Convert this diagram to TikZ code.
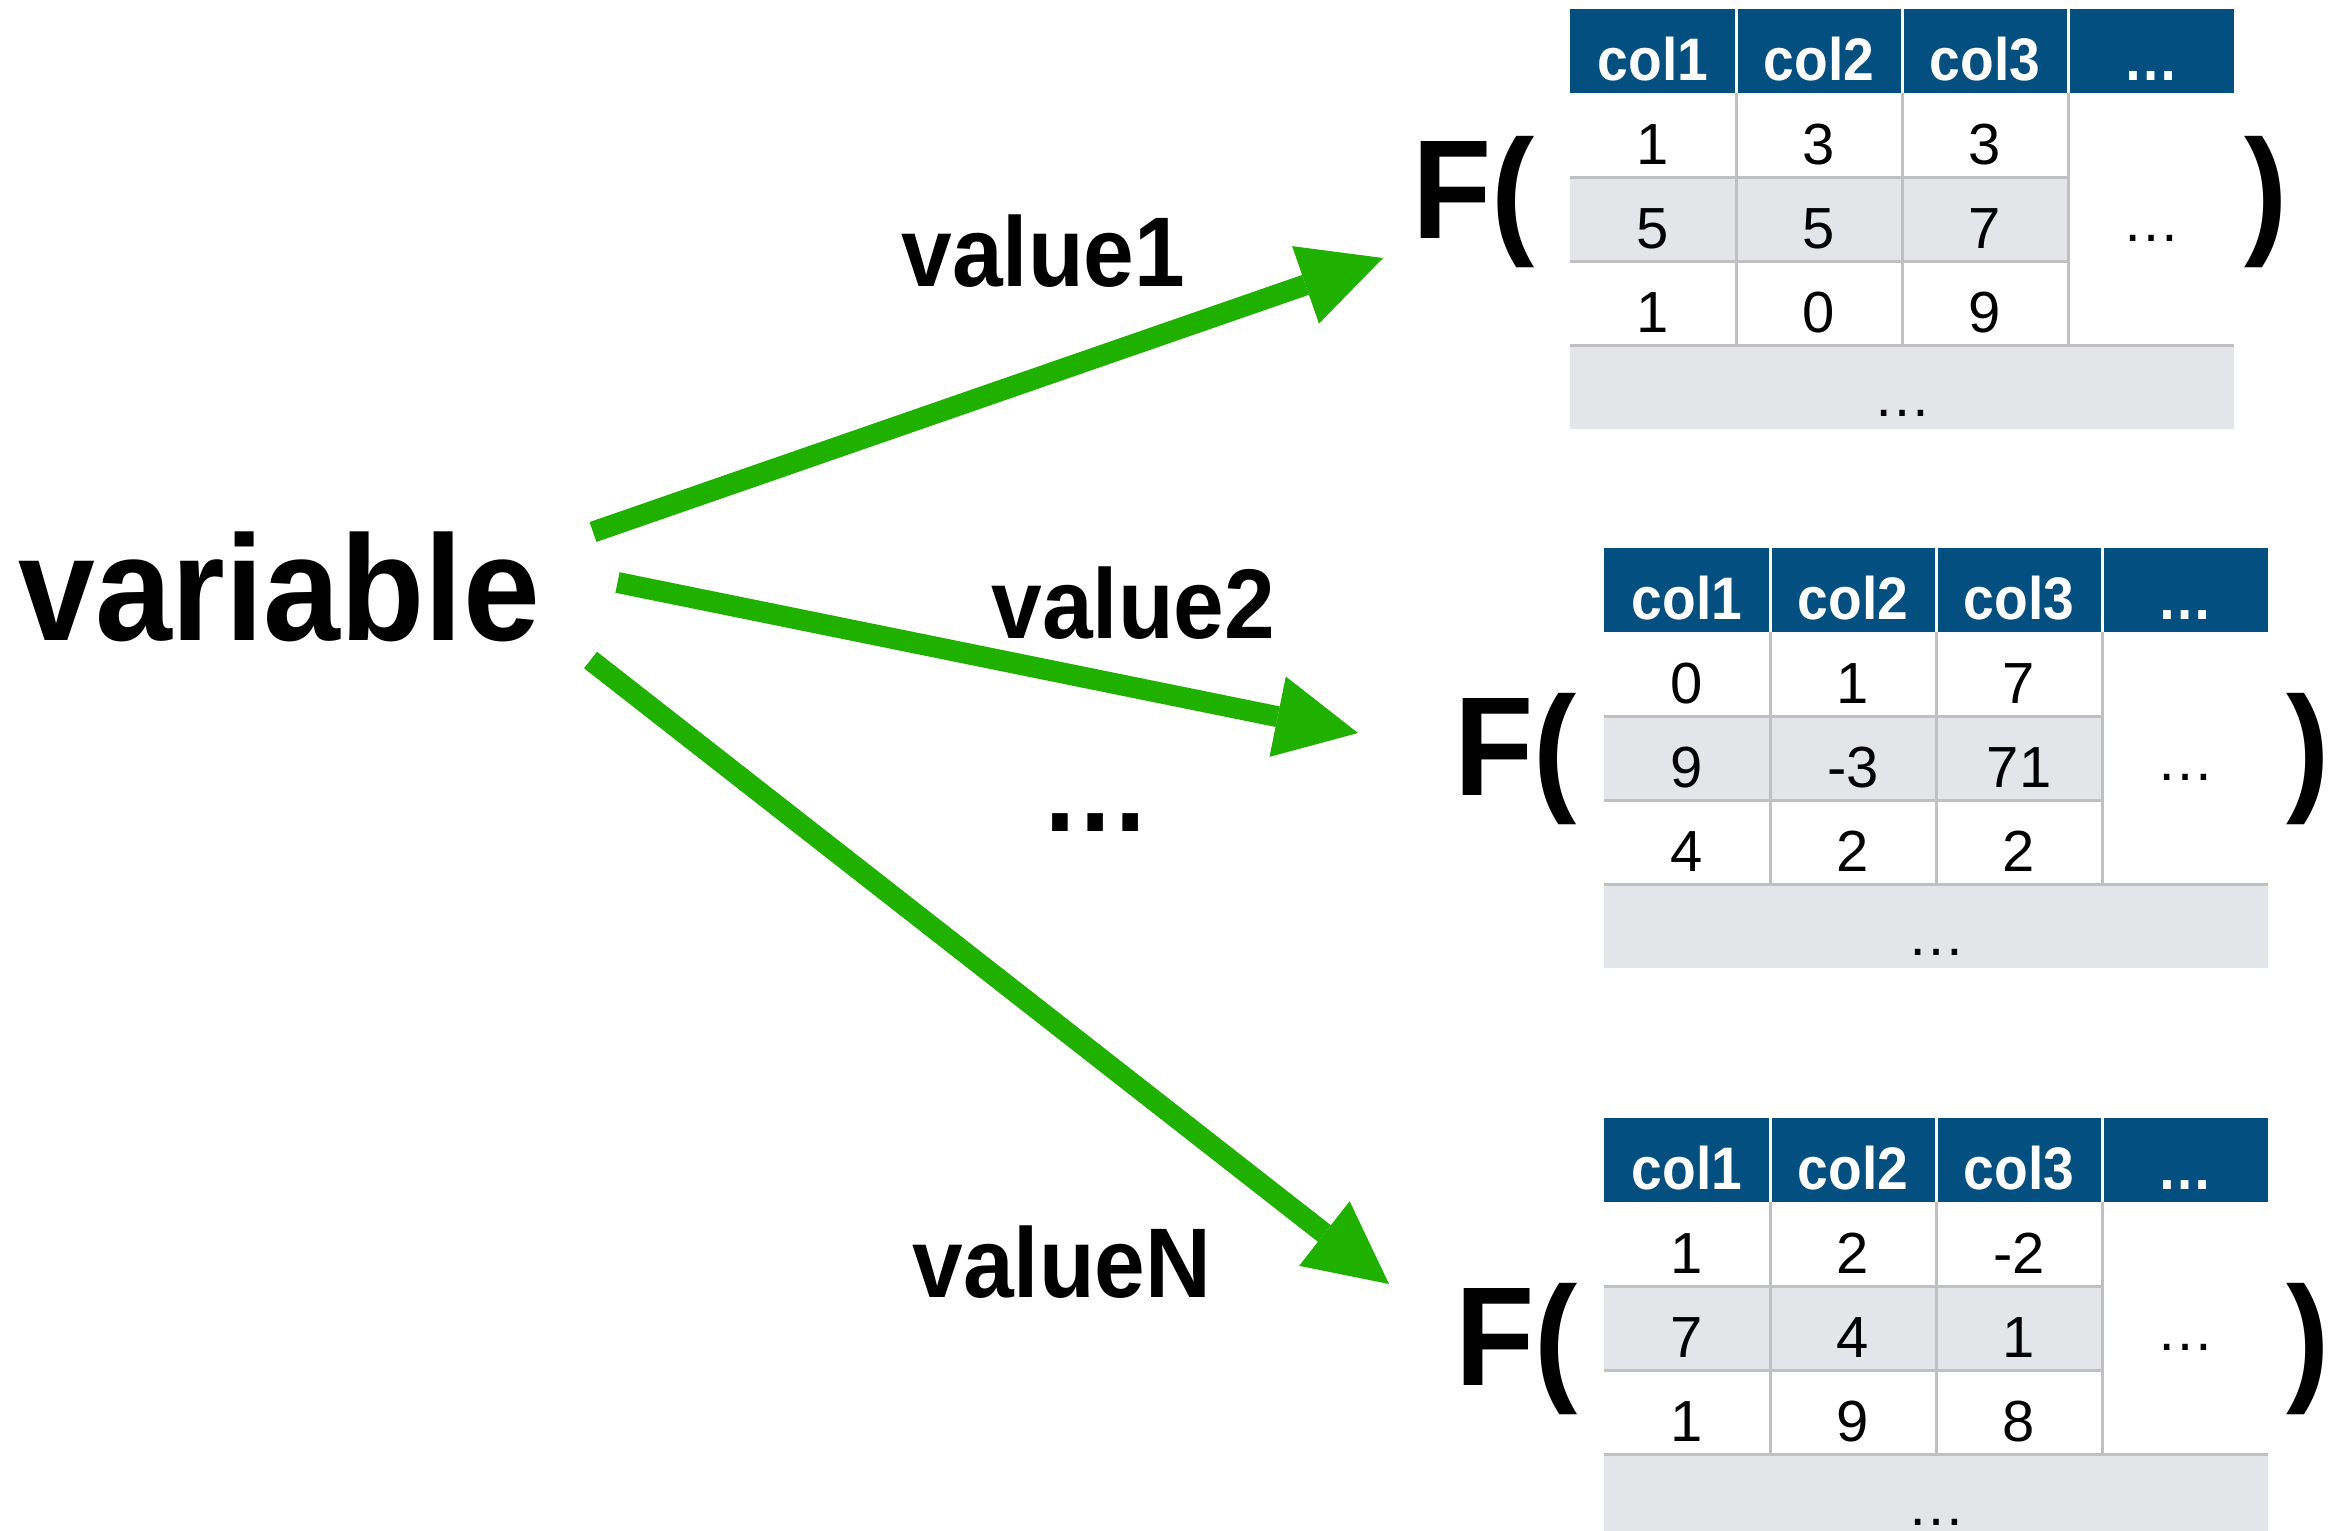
\documentclass[tikz,border=0pt]{standalone}
\usepackage{fontspec}
\usetikzlibrary{arrows.meta}
\newfontfamily\hvc[FakeStretch=0.92]{Liberation Sans}
\newfontfamily\hvr{Liberation Sans}
\definecolor{hdrblue}{RGB}{3,79,128}
\definecolor{rowgray}{RGB}{228,229,233}
\definecolor{gridgray}{RGB}{192,192,194}
\definecolor{flowgreen}{RGB}{32,176,0}
\tikzset{
  bigword/.style={font=\hvc\bfseries\fontsize{75pt}{85pt}\selectfont, inner sep=0pt, anchor=base west},
  vlabel/.style={font=\hvc\bfseries\fontsize{49.5pt}{56pt}\selectfont, inner sep=0pt, anchor=base west},
  bigdots/.style={font=\hvc\bfseries\fontsize{60pt}{66pt}\selectfont, inner sep=0pt, anchor=base},
  func/.style={font=\hvc\bfseries\fontsize{70.5pt}{80pt}\selectfont, inner sep=0pt, anchor=base west},
  hdr/.style={font=\hvc\bfseries\fontsize{30pt}{36pt}\selectfont, text=white, inner sep=0pt, anchor=base},
  cell/.style={font=\hvr\fontsize{29pt}{34pt}\selectfont, inner sep=0pt, anchor=base},
  flow/.style={draw=flowgreen, line width=10.5pt,
    -{Triangle[length=41pt,width=41pt,line width=0pt]}},
}
% a 3x3 data frame with header row, extra column and extra row
% #1 name, #2 top-left corner, #3 #4 #5 the three rows as a/b/c
\newcommand\datatable[5]{%
  \begin{scope}[shift={#2}]
    \fill[hdrblue] (0,0) rectangle (664,84);
    \fill[rowgray] (0,168) rectangle (498,252);
    \fill[rowgray] (0,336) rectangle (664,420);
    \draw[gridgray, line width=1.5pt]
      (166,84) -- (166,336) (332,84) -- (332,336) (498,84) -- (498,336)
      (0,168) -- (498,168) (0,252) -- (498,252) (0,336) -- (664,336);
    \draw[white, line width=1.5pt]
      (166,0) -- (166,84) (332,0) -- (332,84) (498,0) -- (498,84);
    \foreach \k/\lab in {1/col1,2/col2,3/col3,4/…}
      \node[hdr] (#1-h\k) at (166*\k-83,71) {\lab};
    \foreach \r/\va/\vb/\vc in {1/#3,2/#4,3/#5} {
      \node[cell] (#1-\r-1) at (83,84*\r+71) {\va};
      \node[cell] (#1-\r-2) at (249,84*\r+71) {\vb};
      \node[cell] (#1-\r-3) at (415,84*\r+71) {\vc};
    }
    \node[cell] (#1-morecols) at (581,232) {…};
    \node[cell] (#1-morerows) at (332,407) {…};
  \end{scope}%
}
\begin{document}
\begin{tikzpicture}[x=0.5pt,y=-0.5pt]
  \useasboundingbox (0,0) rectangle (2329,1531);
  \clip (0,0) rectangle (2329,1531);

  % the grouping variable
  \node[bigword] (var) at (18,640) {variable};

  % one data frame per value
  \datatable{ta}{(1570,9)}{1/3/3}{5/5/7}{1/0/9}
  \datatable{tb}{(1604,548)}{0/1/7}{9/-3/71}{4/2/2}
  \datatable{tc}{(1604,1118)}{1/2/-2}{7/4/1}{1/9/8}

  \node[func] (fa) at (1412,238) {F(};
  \node[func] (fac) at (2244,238) {)};
  \node[func] (fb) at (1454,795) {F(};
  \node[func] (fbc) at (2286,795) {)};
  \node[func] (fc) at (1455,1385) {F(};
  \node[func] (fcc) at (2286,1385) {)};

  % labels of the values
  \node[vlabel] (v1) at (901,286) {value1};
  \node[vlabel] (v2) at (991,638) {value2};
  \node[bigdots] (vdots) at (1096,831) {…};
  \node[vlabel] (vn) at (912,1297) {valueN};

  % arrows from the variable to each group
  \coordinate (s1) at (593,532);
  \coordinate (e1) at (1383,258);
  \coordinate (s2) at (617.5,582.5);
  \coordinate (e2) at (1358,733);
  \coordinate (s3) at (590.5,660);
  \coordinate (e3) at (1389,1284);
  \draw[flow] (s1) -- (e1);
  \draw[flow] (s2) -- (e2);
  \draw[flow] (s3) -- (e3);
\end{tikzpicture}
\end{document}
